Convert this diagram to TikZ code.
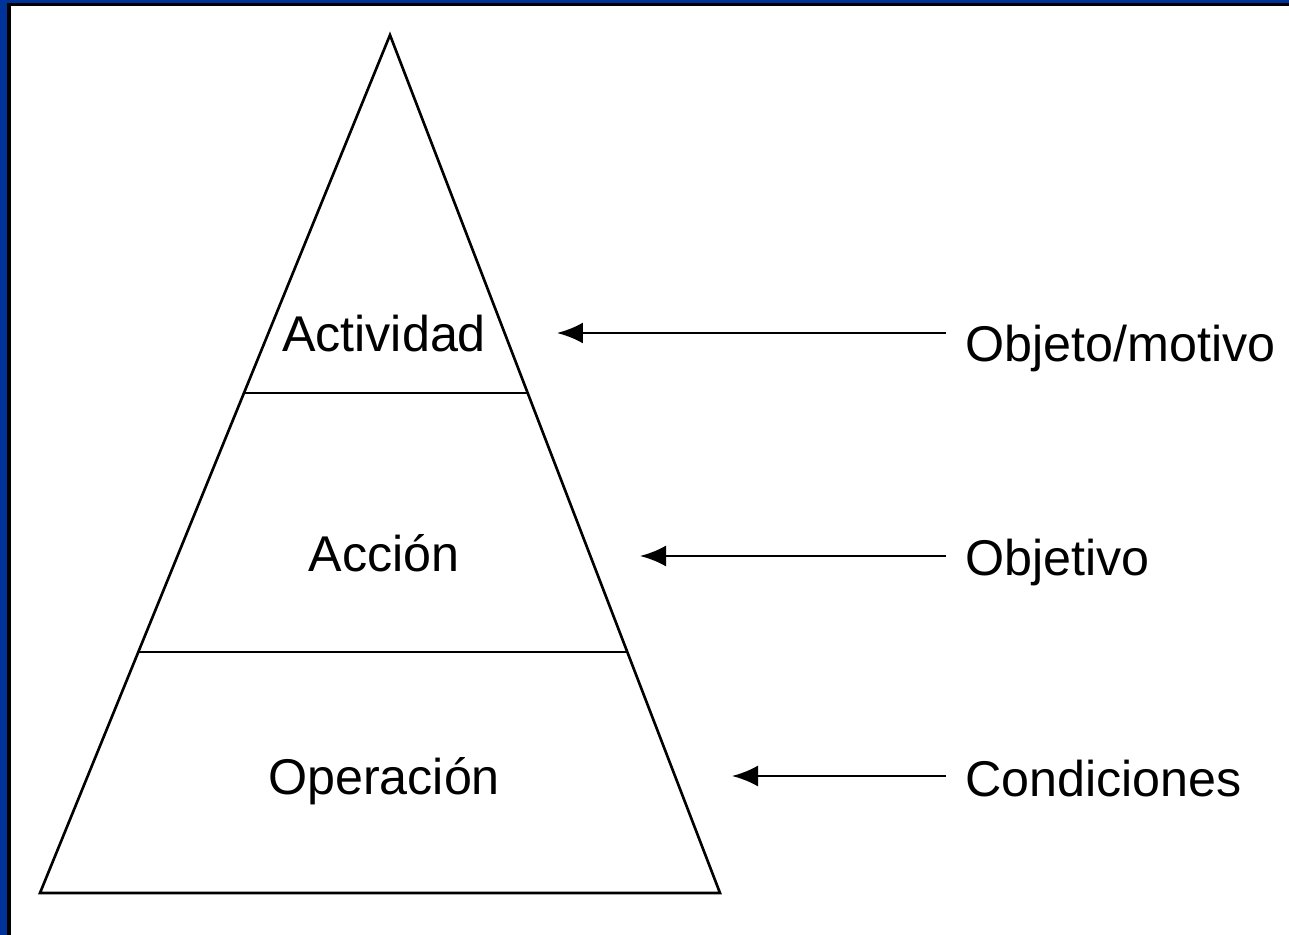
\documentclass[tikz,border=0pt]{standalone}
\usepackage{fontspec}
\setmainfont{Liberation Sans}
\usetikzlibrary{arrows.meta,calc}
\definecolor{marco}{RGB}{0,51,153}
\tikzset{
  nivel/.style={anchor=base,inner sep=0pt,font=\fontsize{28.6}{34}\selectfont},
  etiqueta/.style={anchor=base west,inner sep=0pt,font=\fontsize{28.6}{34}\selectfont},
  flecha/.style={line width=1.5pt,shorten <=0.38cm,-{Latex[length=0.52cm,width=0.42cm]}},
  linea/.style={line width=1.5pt,line join=miter}
}
\begin{document}
\begin{tikzpicture}[x=0.02cm,y=-0.02cm]%
  \useasboundingbox (0,0) rectangle (1289,935);
  % Frame.
  \fill[marco] (0,0) rectangle (1289,935);
  \fill[black] (7,3) rectangle (1289,935);
  \fill[white] (11,6) rectangle (1289,935);

  % Pyramid.
  \coordinate (cima) at (390,35);
  \coordinate (izq) at (40,893);
  \coordinate (der) at (720,893);
  \draw[linea] (cima) -- (der) -- (izq) -- cycle;
  \foreach \t in {0.4172,0.7191}
  \draw[linea] ($(cima)!\t!(izq)$) -- ($(cima)!\t!(der)$);

  \foreach \i/\txt/\yb in {1/Actividad/352, 2/Acción/572, 3/Operación/795}
  \node[nivel] (nivel\i) at (384,\yb) {\txt};

  % Labels and arrows.
  \foreach \i/\txt/\yb/\xp/\ya in {1/{Objeto/motivo}/362/557/333, 2/{Objetivo}/576/640/556, 3/{Condiciones}/797/732/776}
  {
  \coordinate (punta\i) at (\xp,\ya);
  \node[etiqueta] (etiq\i) at (965,\yb) {\txt};
  \draw[flecha] (etiq\i.west |- punta\i) -- (punta\i);
  }
\end{tikzpicture}
\end{document}
